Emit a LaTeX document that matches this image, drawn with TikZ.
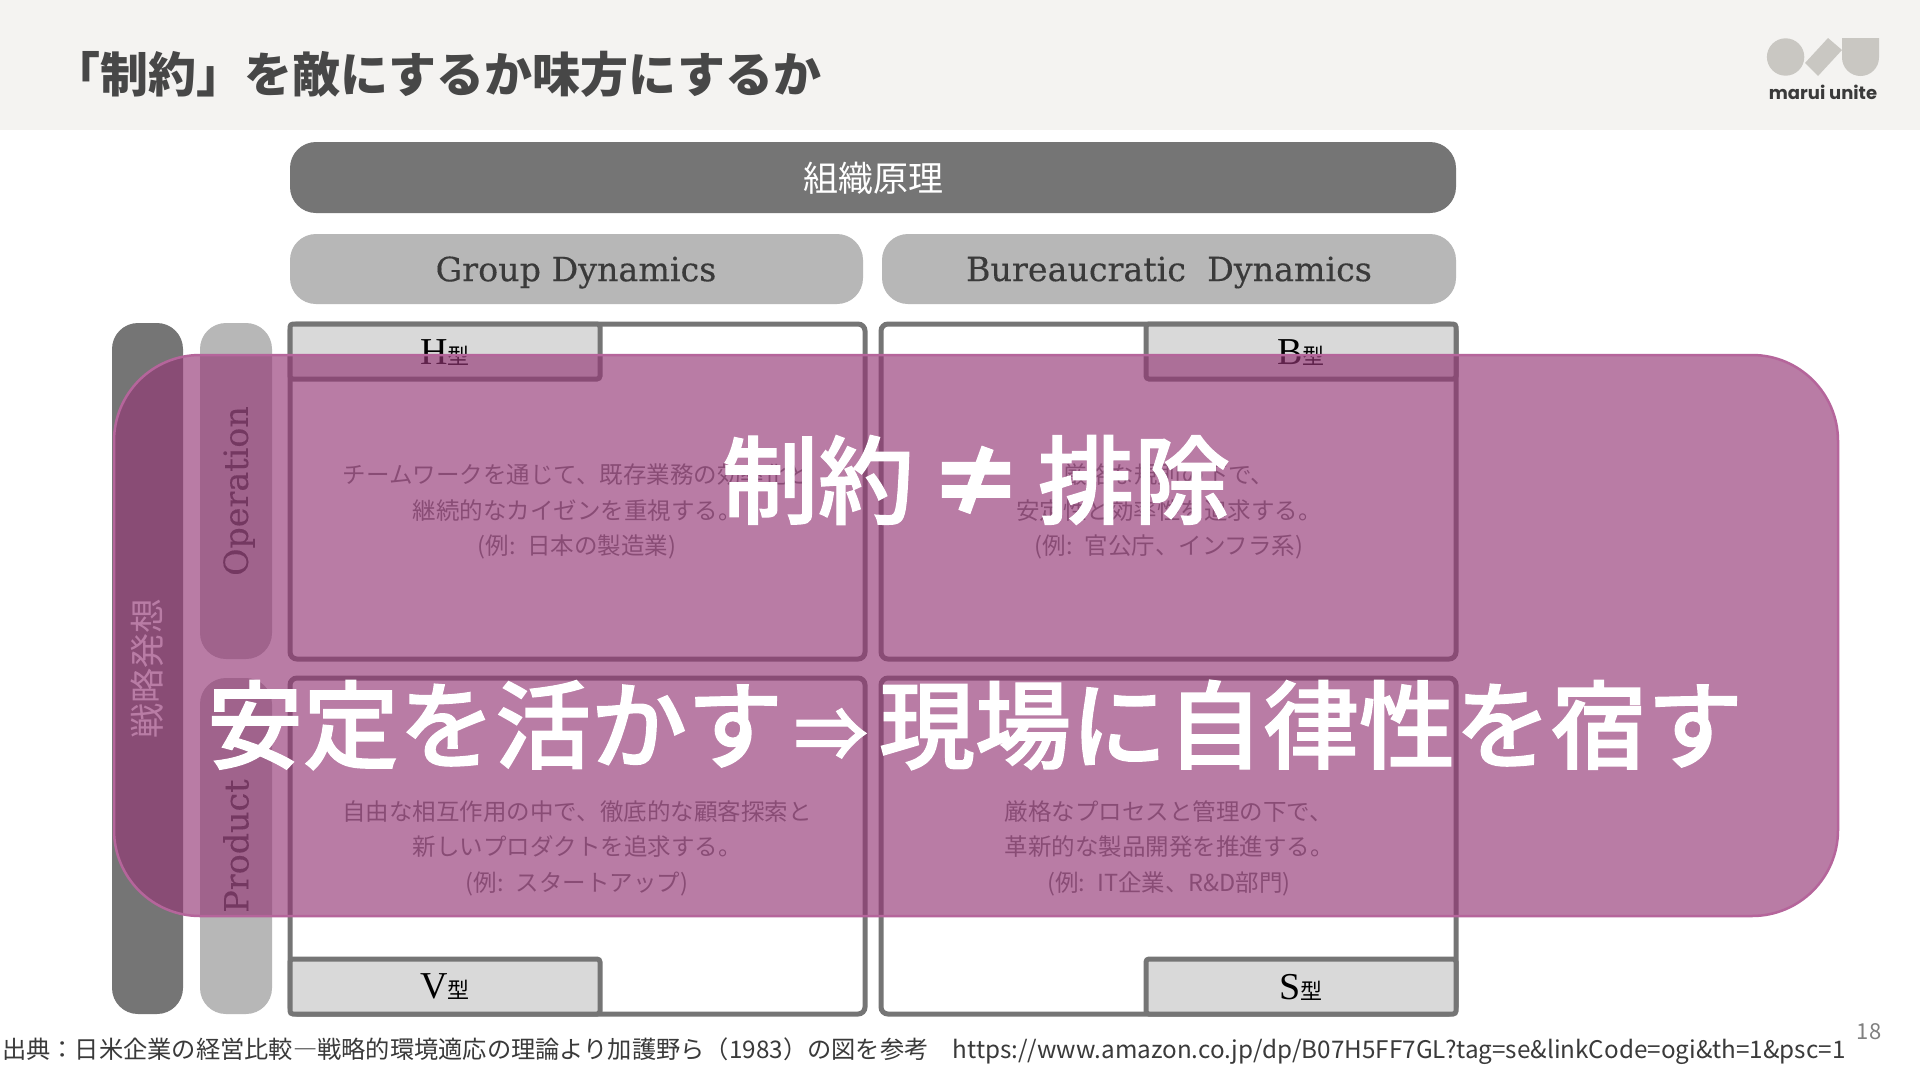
\documentclass[tikz,border=0pt]{standalone}
\usepackage{fontspec}
\setmainfont{Noto Sans CJK JP}
\newfontfamily\serifjp{Liberation Serif}
\newfontfamily\serifhead[FakeBold=0.25]{DejaVu Serif}
\newfontfamily\mediumjp[FakeBold=1.3]{Noto Sans CJK JP Medium}
\newfontfamily\logofont{Poppins}
\definecolor{headgray}{HTML}{F4F3F1}
\definecolor{bardark}{HTML}{757575}
\definecolor{barlight}{HTML}{B7B7B7}
\definecolor{tabgray}{HTML}{D9D9D9}
\definecolor{inkdark}{HTML}{3A3A3A}
\definecolor{inktitle}{HTML}{474747}
\definecolor{logogray}{HTML}{C9C7C2}
\definecolor{veilpink}{HTML}{943776}
\definecolor{veilline}{HTML}{B5659B}
\newcommand{\fs}[1]{\fontsize{#1}{#1}\selectfont}
\newcommand{\typemark}[1]{{\serifjp\fs{38}#1}{\fs{22}型}}
\tikzset{
  barbox/.style={rounded corners=26pt},
  quadbox/.style={draw=bardark, line width=5pt, fill=white, rounded corners=7pt},
  tabbox/.style={draw=bardark, line width=5pt, fill=tabgray, rounded corners=3pt},
  headlabel/.style={font=\serifhead\fs{33.3}, text=inkdark},
  sidelabel/.style={font=\serifhead\fs{33.3}, text=inkdark, rotate=90},
  bodytext/.style={font=\fs{23.5}, text=bardark, align=center, text width=560pt},
  bigtext/.style={text=white, inner sep=0pt}
}
\begin{document}
\begin{tikzpicture}[x=1pt, y=-1pt]
    \useasboundingbox (0,0) rectangle (1920,1080);
    \fill[white] (0,0) rectangle (1920,1080);
    % Intestazione
    \fill[headgray] (0,0) rectangle (1920,130);
    \node[font=\bfseries\fs{48}, text=inktitle, anchor=west, inner sep=0pt] (title) at (52,74) {「制約」を敵にするか味方にするか};
    \fill[logogray] (1785.6,57) circle (18.7);
    \fill[logogray] (1805,63) -- (1828,38) -- (1842,50) -- (1818,76) -- cycle;
    \fill[logogray] (1842,38) -- (1879,38) -- (1879,57.5) arc[start angle=0, end angle=180, radius=18.5] -- cycle;
    \node[font=\logofont\bfseries\fs{18}, text=inkdark, inner sep=0pt] (logotext) at (1823,92) {marui unite};
    % Barre superiori
    \fill[bardark, barbox] (290,142) rectangle (1456,213);
    \node[font=\fs{35}, text=white] (principle) at (873,178) {組織原理};
    \fill[barlight, barbox] (290,234) rectangle (863,304);
    \node[headlabel] (group) at (576,272.5) {Group Dynamics};
    \fill[barlight, barbox] (882,234) rectangle (1456,304);
    \node[headlabel] (bureau) at (1169,272.5) {Bureaucratic\ \ Dynamics};
    % Barre laterali
    \fill[bardark, barbox] (112,323) rectangle (183,1014);
    \node[font=\fs{35}, text=white, rotate=90] (strategy) at (147,668) {戦略発想};
    \fill[barlight, barbox] (200,323) rectangle (272,659);
    \node[sidelabel] (operation) at (239,491) {Operation};
    \fill[barlight, barbox] (200,678) rectangle (272,1014);
    \node[sidelabel] (product) at (236,846) {Product};
    % Quadranti
    \draw[quadbox] (290,324) rectangle (865,659);
    \draw[quadbox] (881,324) rectangle (1456,659);
    \draw[quadbox] (290,678) rectangle (865,1014);
    \draw[quadbox] (881,678) rectangle (1456,1014);
    \draw[tabbox] (290,324) rectangle (600,379);
    \draw[tabbox] (1146,324) rectangle (1456,379);
    \draw[tabbox] (290,959) rectangle (600,1014);
    \draw[tabbox] (1146,959) rectangle (1456,1014);
    \node[inner sep=0pt] (typeh) at (445,353) {\typemark{H}};
    \node[inner sep=0pt] (typeb) at (1301,353) {\typemark{B}};
    \node[inner sep=0pt] (typev) at (445,987) {\typemark{V}};
    \node[inner sep=0pt] (types) at (1301,987) {\typemark{S}};
    % Testi dei quadranti
    \node[bodytext] (texth) at (577,511.5) {チームワークを通じて、既存業務の効率化と\\[12pt]継続的なカイゼンを重視する。\\[12pt](例: 日本の製造業)};
    \node[bodytext] (textb) at (1169,511.5) {厳格な規則の下で、\\[12pt]安定性と効率性を追求する。\\[12pt](例: 官公庁、インフラ系)};
    \node[bodytext] (textv) at (577,848) {自由な相互作用の中で、徹底的な顧客探索と\\[12pt]新しいプロダクトを追求する。\\[12pt](例: スタートアップ)};
    \node[bodytext] (texts) at (1169,848) {厳格なプロセスと管理の下で、\\[12pt]革新的な製品開発を推進する。\\[12pt](例: IT企業、R\&D部門)};
    % Velo e messaggio
    \fill[veilpink, opacity=0.65, rounded corners=86pt] (114,355) rectangle (1838,916);
    \draw[veilline, line width=2.5pt, rounded corners=86pt] (114,355) rectangle (1838,916);
    \node[bigtext, font=\mediumjp\fs{96}] (nomatch) at (976,480) {制約\hspace{14pt}{\bfseries ≠}\hspace{14pt}排除};
    \node[bigtext, font=\mediumjp\fs{96}] (message) at (975,725) {安定を活かす\makebox[96pt]{\fs{74}⇒}現場に自律性を宿す};
    % Fonte e pagina
    \node[font=\fs{24.25}, text=inkdark, anchor=west, inner sep=0pt] (source) at (2,1051.5) {出典：日米企業の経営比較―戦略的環境適応の理論より加護野ら（1983）の図を参考　https://www.amazon.co.jp/dp/B07H5FF7GL?tag=se\&linkCode=ogi\&th=1\&psc=1};
    \node[font=\fs{22}, text=gray, inner sep=0pt] (pagenum) at (1869,1032) {18};
  \end{tikzpicture}
\end{document}
